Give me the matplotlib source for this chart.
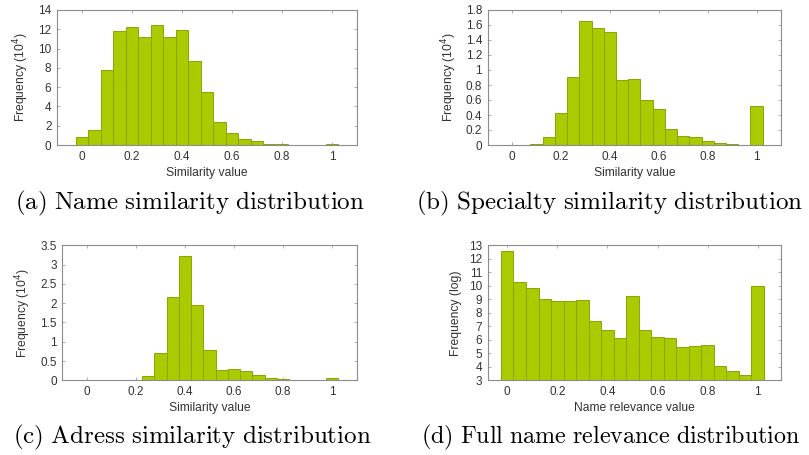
import numpy as np
import matplotlib
matplotlib.use("Agg")
import matplotlib.pyplot as plt

plt.rcParams['font.family'] = ['Liberation Sans', 'DejaVu Sans']
plt.rcParams['mathtext.fontset'] = 'cm'

bins = [round(0.05 * i, 2) for i in range(21)]

name_sim = [0.8, 1.55, 7.8, 11.8, 12.2, 11.2, 12.45, 11.2, 11.9, 8.7, 5.5,
            2.35, 1.2, 0.62, 0.4, 0.1, 0.07, 0.02, 0.01, 0.01, 0.15]
specialty_sim = [0.0, 0.003, 0.013, 0.11, 0.43, 0.905, 1.65, 1.56, 1.51, 0.87, 0.875,
                 0.60, 0.48, 0.22, 0.12, 0.107, 0.053, 0.027, 0.013, 0.003, 0.52]
address_sim = [0.0, 0.0, 0.0, 0.005, 0.01, 0.1, 0.71, 2.16, 3.22, 1.94, 0.79,
               0.27, 0.285, 0.235, 0.13, 0.06, 0.025, 0.01, 0.005, 0.005, 0.06]
fullname_rel = [12.56, 10.28, 9.81, 9.0, 8.88, 8.88, 8.93, 7.42, 6.70, 6.14, 9.25,
                6.70, 6.19, 6.11, 5.47, 5.54, 5.59, 4.06, 3.69, 3.40, 9.98]

captions = ["(a) Name similarity distribution",
            "(b) Specialty similarity distribution",
            "(c) Adress similarity distribution",
            "(d) Full name relevance distribution"]
xlabels = ["Similarity value", "Similarity value", "Similarity value", "Name relevance value"]
ylabels = [r"Frequency (10$^4$)", r"Frequency (10$^4$)", r"Frequency (10$^4$)", "Frequency (log)"]

W, H = 809, 455
fig = plt.figure(figsize=(W / 100, H / 100), dpi=100)

boxes = [(57, 10, 357, 145), (487.7, 10, 781, 145),
         (62.3, 245.3, 356.7, 380.3), (487.7, 245.3, 781, 380.3)]
datas = [name_sim, specialty_sim, address_sim, fullname_rel]
ylims = [(0, 14), (0, 1.8), (0, 3.5), (3, 13)]
ysteps = [2, 0.2, 0.5, 1]
xlims = [(-0.1, 1.1), (-0.1, 1.1), (-0.1, 1.1), (-0.078, 1.093)]
cap_pos = [(190, 203), (610, 203), (192, 437), (611, 437)]
cap_size = [18, 18, 18, 17.3]

fill = '#a9cb00'
edge = '#8ea300'
frame = '#8c8c8c'

for i in range(4):
    l, t, r, b = boxes[i]
    ax = fig.add_axes([l / W, 1 - b / H, (r - l) / W, (b - t) / H])
    lo, hi = ylims[i]
    base = lo
    vals = np.array(datas[i])
    ax.bar(bins, vals - base, width=0.05, bottom=base, align='center',
           color=fill, edgecolor=edge, linewidth=0.7, zorder=2)
    ax.set_xlim(*xlims[i])
    ax.set_ylim(lo, hi)
    ax.set_xticks([0, 0.2, 0.4, 0.6, 0.8, 1.0])
    ax.set_xticklabels(['0', '0.2', '0.4', '0.6', '0.8', '1'])
    yt = np.arange(lo, hi + 1e-9, ysteps[i])
    ax.set_yticks(yt)
    ax.set_yticklabels(['%g' % round(v, 2) for v in yt])
    for s in ax.spines.values():
        s.set_color(frame)
        s.set_linewidth(0.8)
    ax.tick_params(direction='in', length=2.5, width=0.5, color=frame,
                   top=True, right=True, labelsize=8.5, labelcolor='#333333', pad=4)
    ax.set_xlabel(xlabels[i], fontsize=8.7, color='#333333', labelpad=3)
    ax.set_ylabel(ylabels[i], fontsize=8.7, color='#333333', labelpad=5,
                  math_fontfamily='dejavusans')
    cx, cy = cap_pos[i]
    txt = r'$\mathrm{' + captions[i].replace(' ', r'\ ') + '}$'
    fig.text(cx / W, 1 - cy / H, txt, ha='center', va='center', fontsize=cap_size[i])

fig.savefig('out.png', dpi=100)
